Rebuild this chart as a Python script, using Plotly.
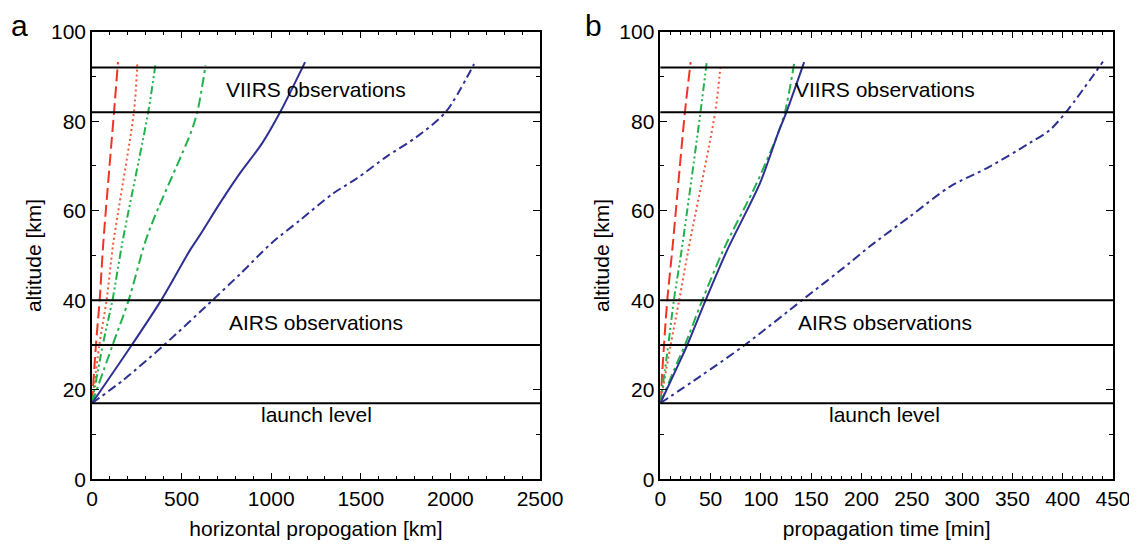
import plotly.graph_objects as go

# ---------------- data ----------------
# panel a: horizontal propagation [km] vs altitude [km]
a_red_dash_alt = [17, 30, 40.2, 52.8, 82.1, 93.2]
a_red_dash_x = [0, 22, 43, 63, 123, 145]
a_red_dot_alt = [17, 30, 40.2, 52.8, 82.1, 92.8]
a_red_dot_x = [0, 41, 82, 119, 234, 253]
a_grn_dd_alt = [17, 30, 40.2, 52.8, 82.1, 93]
a_grn_dd_x = [0, 60, 115, 169, 314, 355]
a_grn_dashdot_alt = [17, 30, 40.2, 52.8, 58.7, 77.3, 82.1, 92.5]
a_grn_dashdot_x = [0, 115, 206, 295, 350, 550, 588, 634]
a_blue_solid_alt = [17, 30, 40.2, 51.2, 54.6, 61.7, 68.4, 75.1, 82.1, 93.2]
a_blue_solid_x = [0, 222, 389, 547, 603, 714, 826, 950, 1051, 1189]
a_blue_dashdot_alt = [17, 22.2, 30, 40.3, 46, 52.7, 57.9, 63.9, 67.2, 72.1, 76.5, 82.1, 92.8]
a_blue_dashdot_x = [0, 175, 402, 680, 830, 1000, 1161, 1347, 1477, 1644, 1812, 1975, 2132]

# panel b: propagation time [min] vs altitude [km]
b_red_dash_alt = [17, 30, 40.2, 51.2, 82.1, 93.2]
b_red_dash_t = [0, 3.7, 7, 11.9, 24.5, 30.2]
b_red_dot_alt = [17, 30, 40.2, 51.2, 82.1, 92.8]
b_red_dot_t = [0, 10.3, 18.9, 27.8, 54.6, 60]
b_grn_dd_alt = [17, 30, 40.2, 51.2, 82.1, 93]
b_grn_dd_t = [0, 7.9, 13.6, 21.2, 40, 46]
b_grn_dashdot_alt = [17, 25.9, 30, 40.2, 51.2, 66.1, 77.3, 82.1, 92.8]
b_grn_dashdot_t = [0, 16.5, 24.5, 42.1, 62.6, 95.7, 117, 124, 133]
b_blue_solid_alt = [17, 25.9, 30, 40.2, 51.2, 66.1, 77.3, 82.1, 93.2]
b_blue_solid_t = [0, 18.5, 26.8, 45.4, 66.5, 99, 117, 125.5, 143]
b_blue_dashdot_alt = [17, 22.9, 30, 40.2, 48.3, 52, 58.7, 65.4, 69.8, 75.1, 78, 82.5, 93.3]
b_blue_dashdot_t = [0, 39, 84, 142, 188, 208, 248, 288, 327, 367, 387, 405, 440]

levels = [92, 82, 40, 30, 17]
labels = ["VIIRS observations", "AIRS observations", "launch level"]
label_alt = [87.1, 35, 14.4]
label_xa = 1250
label_xb = 223

RED = "#ee3524"
ORANGE = "#f15a3a"
GREEN = "#22b24c"
BLUE = "#2e3192"

styles = [
    (RED, "12px,5px"),
    (ORANGE, "2px,3px"),
    (GREEN, "8px,3px,2px,3px,2px,3px"),
    (GREEN, "10px,4px,3px,4px"),
    (BLUE, "solid"),
    (BLUE, "9px,4px,3px,4px"),
]

series_a = [
    (a_red_dash_x, a_red_dash_alt),
    (a_red_dot_x, a_red_dot_alt),
    (a_grn_dd_x, a_grn_dd_alt),
    (a_grn_dashdot_x, a_grn_dashdot_alt),
    (a_blue_solid_x, a_blue_solid_alt),
    (a_blue_dashdot_x, a_blue_dashdot_alt),
]
series_b = [
    (b_red_dash_t, b_red_dash_alt),
    (b_red_dot_t, b_red_dot_alt),
    (b_grn_dd_t, b_grn_dd_alt),
    (b_grn_dashdot_t, b_grn_dashdot_alt),
    (b_blue_solid_t, b_blue_solid_alt),
    (b_blue_dashdot_t, b_blue_dashdot_alt),
]

fig = go.Figure()

for (xs, ys), (c, d) in zip(series_a, styles):
    fig.add_trace(go.Scatter(x=xs, y=ys, mode="lines", xaxis="x", yaxis="y",
                             line=dict(color=c, dash=d, width=2, shape="spline", smoothing=0.8),
                             showlegend=False, hoverinfo="skip"))
for (xs, ys), (c, d) in zip(series_b, styles):
    fig.add_trace(go.Scatter(x=xs, y=ys, mode="lines", xaxis="x2", yaxis="y2",
                             line=dict(color=c, dash=d, width=2, shape="spline", smoothing=0.8),
                             showlegend=False, hoverinfo="skip"))

shapes = []
for lv in levels:
    for xr, yr in (("x domain", "y"), ("x2 domain", "y2")):
        shapes.append(dict(type="line", xref=xr, yref=yr, x0=0, x1=1, y0=lv, y1=lv,
                           line=dict(color="black", width=2), layer="above"))

W, H = 1137, 549
OFF = 8  # page body margin offset

def px(x):
    return (x - OFF) / W

def py(y):
    return 1 - (y - OFF) / H

FONT = "Liberation Sans, Arial, Helvetica, sans-serif"
FS = 21
annotations = []
for t, al in zip(labels, label_alt):
    annotations.append(dict(x=label_xa, y=al, xref="x", yref="y", text=t, showarrow=False,
                            font=dict(size=FS, color="black", family=FONT)))
    annotations.append(dict(x=label_xb, y=al, xref="x2", yref="y2", text=t, showarrow=False,
                            font=dict(size=FS, color="black", family=FONT)))
annotations.append(dict(x=px(19), y=py(8), xref="paper", yref="paper", text="a",
                        xanchor="center", yanchor="top", borderpad=0,
                        showarrow=False, font=dict(size=30, color="black", family=FONT)))
annotations.append(dict(x=px(593), y=py(8), xref="paper", yref="paper", text="b",
                        xanchor="center", yanchor="top", borderpad=0,
                        showarrow=False, font=dict(size=30, color="black", family=FONT)))

ydom = [py(479.3), py(31.7)]


def xaxis(dom, rng, dtick, minor, title):
    return dict(domain=dom, range=rng, dtick=dtick, tick0=0, ticks="inside", ticklen=7,
                tickwidth=1, tickcolor="black", showline=True, linecolor="black",
                linewidth=1.5, mirror="ticks", showgrid=False, zeroline=False,
                automargin=False,
                minor=dict(dtick=minor, ticks="inside", ticklen=4, tickcolor="black",
                           showgrid=False),
                tickfont=dict(size=FS, color="black", family=FONT),
                title=dict(text=title, font=dict(size=FS, color="black", family=FONT),
                           standoff=12))


def yaxis(anchor):
    return dict(domain=ydom, range=[0, 100], dtick=20, tick0=0, ticks="inside", ticklen=7,
                tickwidth=1, tickcolor="black", showline=True, linecolor="black",
                linewidth=1.5, mirror="ticks", showgrid=False, zeroline=False, anchor=anchor,
                automargin=False,
                minor=dict(dtick=10, ticks="inside", ticklen=4, tickcolor="black",
                           showgrid=False),
                tickfont=dict(size=FS, color="black", family=FONT),
                title=dict(text="altitude [km]", font=dict(size=FS, color="black", family=FONT),
                           standoff=4))


fig.update_layout(
    width=W, height=H,
    margin=dict(l=0, r=0, t=0, b=0),
    paper_bgcolor="white", plot_bgcolor="white",
    xaxis=dict(**xaxis([px(92), px(540)], [0, 2500], 500, 100,
                       "horizontal propogation [km]"), anchor="y"),
    xaxis2=dict(**xaxis([px(660.3), px(1113)], [0, 450], 50, 10,
                        "propagation time [min]"), anchor="y2"),
    yaxis=yaxis("x"),
    yaxis2=yaxis("x2"),
    shapes=shapes,
    annotations=annotations,
)

fig.write_html("out.html")
